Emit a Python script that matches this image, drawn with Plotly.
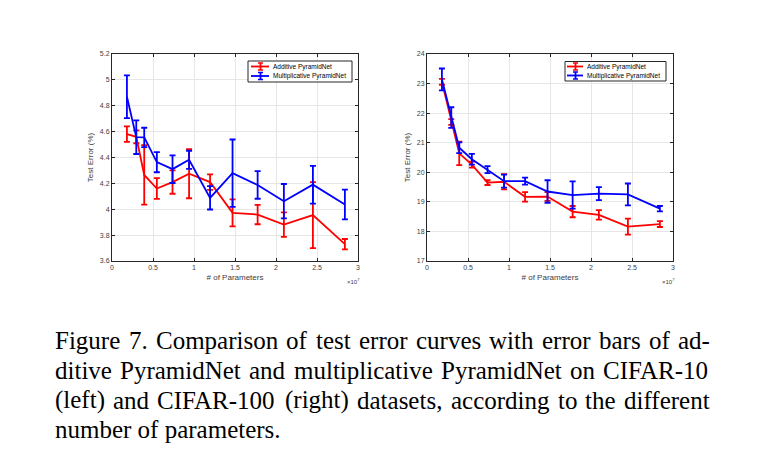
import plotly.graph_objects as go

# ---------------- data ----------------
params = [0.182, 0.296, 0.393, 0.547, 0.738, 0.94, 1.196, 1.47, 1.776, 2.096, 2.45, 2.84]  # x 1e7

c10_add = [4.58, 4.56, 4.265, 4.16, 4.21, 4.275, 4.21, 3.972, 3.959, 3.881, 3.955, 3.73]
c10_add_err = [0.06, 0.05, 0.23, 0.08, 0.09, 0.19, 0.06, 0.105, 0.075, 0.095, 0.255, 0.04]
c10_mul = [4.87, 4.557, 4.555, 4.364, 4.31, 4.382, 4.088, 4.279, 4.188, 4.062, 4.19, 4.036]
c10_mul_err = [0.165, 0.13, 0.075, 0.078, 0.107, 0.07, 0.09, 0.26, 0.107, 0.133, 0.146, 0.115]

c100_add = [23.06, 21.70, 20.64, 20.26, 19.65, 19.68, 19.17, 19.18, 18.67, 18.56, 18.16, 18.25]
c100_add_err = [0.1, 0.1, 0.4, 0.1, 0.08, 0.26, 0.16, 0.15, 0.19, 0.16, 0.27, 0.1]
c100_mul = [23.14, 21.85, 20.83, 20.44, 20.09, 19.70, 19.70, 19.35, 19.23, 19.28, 19.25, 18.77]
c100_mul_err = [0.37, 0.35, 0.18, 0.18, 0.12, 0.22, 0.12, 0.38, 0.46, 0.22, 0.37, 0.09]

series_names = ["Additive PyramidNet", "Multiplicative PyramidNet"]
x_ticks = [0, 0.5, 1, 1.5, 2, 2.5, 3]
x_tick_text = ["0", "0.5", "1", "1.5", "2", "2.5", "3"]
y10_ticks = [3.6, 3.8, 4.0, 4.2, 4.4, 4.6, 4.8, 5.0, 5.2]
y10_tick_text = ["3.6", "3.8", "4", "4.2", "4.4", "4.6", "4.8", "5", "5.2"]
y100_ticks = [17, 18, 19, 20, 21, 22, 23, 24]

caption_lines = [
    "Figure 7. Comparison of test error curves with error bars of ad-",
    "ditive PyramidNet and multiplicative PyramidNet on CIFAR-10",
    "(left) and CIFAR-100 (right) datasets, according to the different",
    "number of parameters.",
]

# ---------------- styling ----------------
OFF = 8                      # page body margin
W, H = 772 - OFF, 458 - OFF  # figure size so that it fits the window
RED, BLUE = "#ff0000", "#0000ff"
AX = "#262626"
SANS = "Liberation Sans, Arial, sans-serif"
SERIF = "Liberation Serif, Times New Roman, serif"
TICKFONT = dict(family=SANS, size=7, color="#404040")
TITLEFONT = dict(family=SANS, size=8, color="#404040")


def py(p):
    """window pixel row -> paper y"""
    return 1 - (p - OFF) / H


def px_(p):
    """window pixel column -> paper x"""
    return (p - OFF) / W


fig = go.Figure()


def add(x, y, err, color, name, xa, ya):
    fig.add_trace(go.Scatter(
        x=x, y=y, mode="lines", name=name, showlegend=False,
        line=dict(color=color, width=1.8),
        error_y=dict(type="data", array=err, visible=True, color=color, thickness=1.8, width=3),
        xaxis=xa, yaxis=ya,
    ))


add(params, c10_add, c10_add_err, RED, series_names[0], "x", "y")
add(params, c10_mul, c10_mul_err, BLUE, series_names[1], "x", "y")
add(params, c100_add, c100_add_err, RED, series_names[0], "x2", "y2")
add(params, c100_mul, c100_mul_err, BLUE, series_names[1], "x2", "y2")

common_ax = dict(
    showline=True, linecolor=AX, linewidth=1, mirror="ticks",
    ticks="inside", ticklen=3, tickcolor=AX, tickwidth=1,
    showgrid=True, gridcolor="#e6e6e6", gridwidth=1,
    zeroline=False, tickfont=TICKFONT, automargin=False,
)

xdom1 = [px_(112), px_(358)]
xdom2 = [px_(427), px_(673)]
ydom = [py(261), py(54)]

fig.update_layout(
    template="none",
    width=W, height=H,
    margin=dict(l=0, r=0, t=0, b=0, autoexpand=False),
    paper_bgcolor="white", plot_bgcolor="white",
    showlegend=False,
    xaxis=dict(domain=xdom1, anchor="y", range=[0, 3], tickvals=x_ticks, ticktext=x_tick_text,
               title=dict(text="# of Parameters", font=TITLEFONT, standoff=3), **common_ax),
    yaxis=dict(domain=ydom, anchor="x", range=[3.6, 5.2], tickvals=y10_ticks, ticktext=y10_tick_text,
               title=dict(text="Test Error (%)", font=TITLEFONT, standoff=5), **common_ax),
    xaxis2=dict(domain=xdom2, anchor="y2", range=[0, 3], tickvals=x_ticks, ticktext=x_tick_text,
                title=dict(text="# of Parameters", font=TITLEFONT, standoff=3), **common_ax),
    yaxis2=dict(domain=ydom, anchor="x2", range=[17, 24], tickvals=y100_ticks,
                title=dict(text="Test Error (%)", font=TITLEFONT, standoff=5), **common_ax),
)

# ---------------- legends (drawn as boxes inside each axes) ----------------
def legend(box, x_line, x_cap, x_text, rows):
    x0, y0, x1, y1 = box
    fig.add_shape(type="rect", xref="paper", yref="paper",
                  x0=px_(x0), x1=px_(x1), y0=py(y1), y1=py(y0),
                  line=dict(color=AX, width=1), fillcolor="white", layer="above")
    for (yy, color, name) in rows:
        fig.add_shape(type="line", xref="paper", yref="paper", x0=px_(x_line[0]), x1=px_(x_line[1]),
                      y0=py(yy), y1=py(yy), line=dict(color=color, width=1.8), layer="above")
        fig.add_shape(type="line", xref="paper", yref="paper", x0=px_(x_cap), x1=px_(x_cap),
                      y0=py(yy - 3.5), y1=py(yy + 3.5), line=dict(color=color, width=1.8), layer="above")
        for dy in (-3.5, 3.5):
            fig.add_shape(type="line", xref="paper", yref="paper", x0=px_(x_cap - 2.5), x1=px_(x_cap + 2.5),
                          y0=py(yy + dy), y1=py(yy + dy), line=dict(color=color, width=1.5), layer="above")
        fig.add_annotation(x=px_(x_text), y=py(yy), xref="paper", yref="paper", xanchor="left",
                           yanchor="middle", text=name, showarrow=False,
                           font=dict(family=SANS, size=6.5, color="black"))


legend((248, 61, 352, 82), (251, 269), 260.5, 270.5,
       [(66.5, RED, series_names[0]), (76, BLUE, series_names[1])])
legend((565, 61.5, 666, 81), (567, 583), 575.5, 584.5,
       [(66.5, RED, series_names[0]), (75.5, BLUE, series_names[1])])

# x10^7 exponent labels
for xr in (362, 677):
    fig.add_annotation(x=px_(xr), y=py(281), xref="paper", yref="paper", xanchor="right", yanchor="middle",
                       text="×10<sup>7</sup>", showarrow=False,
                       font=dict(family=SANS, size=6, color="#404040"))

# ---------------- caption (justified, Times metrics) ----------------
TIMES_W = {
    " ": 250, "(": 333, ")": 333, ",": 250, "-": 333, ".": 250,
    "0": 500, "1": 500, "7": 500,
    "A": 722, "C": 667, "F": 556, "I": 333, "N": 722, "P": 556, "R": 667,
    "a": 444, "b": 500, "c": 444, "d": 500, "e": 444, "f": 333, "g": 500, "h": 500,
    "i": 278, "l": 278, "m": 778, "n": 500, "o": 500, "p": 500, "r": 333, "s": 389,
    "t": 278, "u": 500, "v": 500, "w": 722, "y": 500,
}
CAP_SIZE = 25
CAP_LEFT, CAP_RIGHT = 53, 708
cap_y = [340, 370, 400, 429]


def tw(word):
    return sum(TIMES_W.get(ch, 500) for ch in word) / 1000 * CAP_SIZE


for i, (line, yy) in enumerate(zip(caption_lines, cap_y)):
    if i == len(caption_lines) - 1:
        fig.add_annotation(x=px_(CAP_LEFT), y=py(yy), xref="paper", yref="paper", xanchor="left",
                           yanchor="middle", text=line, showarrow=False,
                           font=dict(family=SERIF, size=CAP_SIZE, color="black"))
        continue
    words = line.split(" ")
    widths = [tw(w) for w in words]
    gap = (CAP_RIGHT - CAP_LEFT - sum(widths)) / (len(words) - 1)
    xcur = CAP_LEFT
    for w, wd in zip(words, widths):
        fig.add_annotation(x=px_(xcur), y=py(yy), xref="paper", yref="paper", xanchor="left",
                           yanchor="middle", text=w, showarrow=False,
                           font=dict(family=SERIF, size=CAP_SIZE, color="black"))
        xcur += wd + gap

fig.write_html("out.html")
